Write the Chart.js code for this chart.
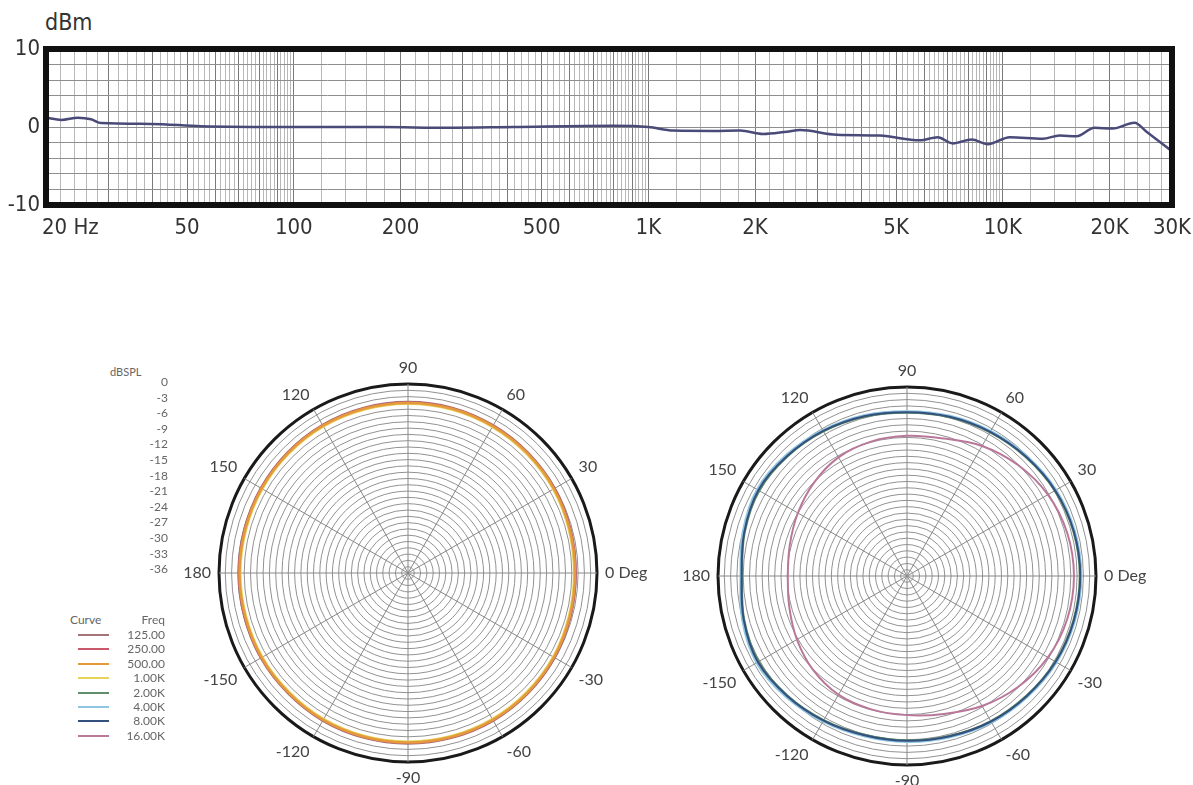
<!DOCTYPE html>
<html>
<head>
<meta charset="utf-8">
<script src="https://cdn.jsdelivr.net/npm/chart.js@4.4.0/dist/chart.umd.min.js"></script>
<style>
  html, body { margin: 0; padding: 0; background: #fff; width: 1193px; height: 785px; overflow: hidden; }
  canvas { position: absolute; }
  .txt { position: absolute; white-space: nowrap; font-family: Lato, "Open Sans", sans-serif; color: #666; }
  #dbm { left: 45px; top: 9px; font: 23px "Liberation Sans Narrow", "DejaVu Sans Condensed", sans-serif; color: #333; }
</style>
</head>
<body>
<div id="dbm" class="txt">dBm</div>
<canvas id="freqChart" style="left:0;top:0" width="1193" height="250"></canvas>
<canvas id="polarLow" style="left:158px;top:353px" width="500" height="440"></canvas>
<canvas id="polarHigh" style="left:657px;top:356px" width="500" height="440"></canvas>
<div id="keys"></div>
<script>
// frequency response (top)
const freqHz = [20, 22.1, 24.6, 26.8, 28.6, 39.5, 54.7, 100, 176, 271, 416, 796, 1000, 1175, 1523, 1815, 2106, 2460, 2680, 3400, 4500, 5830, 6550, 7220, 8170, 9070, 10460, 12950, 14460, 16140, 18140, 20400, 23520, 25430, 30000];
const levelDbm = [1.2, 0.9, 1.2, 1.0, 0.5, 0.4, 0.1, 0.0, 0.0, -0.1, 0.0, 0.15, 0.0, -0.45, -0.5, -0.45, -0.9, -0.6, -0.4, -1.0, -1.1, -1.7, -1.3, -2.1, -1.6, -2.2, -1.3, -1.5, -1.1, -1.2, -0.1, -0.2, 0.55, -0.6, -3.1];
const xTickValues = [20, 50, 100, 200, 500, 1000, 2000, 5000, 10000, 20000, 30000];
const xTickText = ['20 Hz', '50', '100', '200', '500', '1K', '2K', '5K', '10K', '20K', '30K'];
const yTickValues = [-10, 0, 10];

// polar plots (angles clockwise from top, dB)
const polarAngles = [90, 75, 60, 45, 30, 15, 0, -15, -30, -45, -60, -75, -90, -105, -120, -135, -150, -165, 180, 165, 150, 135, 120, 105];
const angleLabels = [90, 60, 30, 0, -30, -60, -90, -120, -150, 180, 150, 120];
const dbsplLabels = ['0', '-3', '-6', '-9', '-12', '-15', '-18', '-21', '-24', '-27', '-30', '-33', '-36'];

const curve125 = [-3.4, -3.4, -3.5, -3.6, -3.7, -3.9, -4.0, -3.9, -3.7, -3.6, -3.5, -3.5, -3.5, -3.5, -3.5, -3.6, -3.6, -3.7, -3.7, -3.7, -3.6, -3.5, -3.4, -3.4];
const curve250 = [-3.5, -3.5, -3.6, -3.7, -3.8, -4.0, -4.1, -4.0, -3.8, -3.7, -3.6, -3.6, -3.6, -3.6, -3.6, -3.7, -3.7, -3.8, -3.8, -3.8, -3.7, -3.6, -3.5, -3.5];
const curve500 = [-3.6, -3.6, -3.7, -3.8, -3.9, -4.1, -4.2, -4.1, -3.9, -3.8, -3.7, -3.7, -3.7, -3.7, -3.7, -3.8, -3.8, -3.9, -3.9, -3.9, -3.8, -3.7, -3.6, -3.6];
const curve1k = [-3.8, -3.8, -3.9, -4.0, -4.1, -4.3, -4.4, -4.3, -4.1, -4.0, -3.9, -3.9, -3.9, -3.9, -3.9, -4.0, -4.0, -4.1, -4.1, -4.1, -4.0, -3.9, -3.8, -3.8];
const curve2k = [-4.9, -4.7, -4.4, -4.0, -3.5, -3.2, -3.1, -3.2, -3.4, -3.8, -4.1, -4.5, -4.7, -4.7, -4.3, -3.8, -3.4, -3.9, -4.6, -4.0, -3.5, -3.8, -4.2, -4.6];
const curve4k = [-4.6, -4.4, -4.1, -3.7, -3.2, -2.9, -2.8, -2.9, -3.1, -3.5, -3.8, -4.2, -4.4, -4.4, -4.0, -3.4, -2.9, -3.5, -4.3, -3.6, -3.0, -3.4, -3.9, -4.3];
const curve8k = [-4.8, -4.6, -4.3, -3.9, -3.4, -3.1, -3.0, -3.1, -3.3, -3.7, -4.0, -4.4, -4.6, -4.6, -4.2, -3.7, -3.2, -3.8, -4.5, -3.9, -3.3, -3.7, -4.1, -4.5];
const curve16k = [-9.3, -8.9, -7.4, -6.1, -5.0, -4.4, -4.2, -4.4, -5.0, -6.1, -7.4, -8.8, -9.5, -9.7, -9.9, -10.7, -11.8, -12.8, -13.3, -12.9, -12.0, -10.9, -9.9, -9.5];

const curveFreqs = ['125.00', '250.00', '500.00', '1.00K', '2.00K', '4.00K', '8.00K', '16.00K'];
const curveColors = ['#a5727a', '#c8586a', '#e49a3c', '#e6d35a', '#5f8f68', '#8cc6e0', '#34507f', '#b9789a'];

// grid lines for the log axis: 0.2 step inside every decade
const gridFreqs = [];
[10, 100, 1000, 10000].forEach(function (b) {
    for (let m = 1; m <= 10.001; m += 0.2) {
        const v = Math.round(b * m * 100) / 100;
        if (v >= 20 && v <= 30000 && gridFreqs.indexOf(v) < 0) gridFreqs.push(v);
    }
});
const isMajor = function (v) {
    const b = Math.pow(10, Math.floor(Math.log10(v) + 1e-9));
    return Math.abs(v / b - Math.round(v / b)) < 1e-6;
};

const narrowFont = "'Liberation Sans Narrow', 'DejaVu Sans Condensed', sans-serif";

const framePlugin = {
    id: 'frame',
    afterDraw: function (chart) {
        const a = chart.chartArea;
        const ctx = chart.ctx;
        const x = chart.scales.x;
        ctx.save();
        ctx.lineWidth = 6;
        ctx.strokeStyle = '#111';
        ctx.strokeRect(a.left, a.top, a.right - a.left, a.bottom - a.top);
        ctx.fillStyle = '#333';
        ctx.font = '22px ' + narrowFont;
        ctx.textBaseline = 'middle';
        xTickValues.forEach(function (v, i) {
            const px = x.getPixelForValue(v);
            ctx.textAlign = i === 0 ? 'left' : 'center';
            ctx.fillText(xTickText[i], i === 0 ? px - 4 : px, 228);
        });
        ctx.restore();
    }
};

new Chart(document.getElementById('freqChart'), {
    type: 'line',
    data: {
        datasets: [{
            data: freqHz.map(function (f, i) { return { x: f, y: levelDbm[i] }; }),
            borderColor: '#4a4a78',
            borderWidth: 2.5,
            pointRadius: 0,
            tension: 0.4,
            cubicInterpolationMode: 'monotone',
            fill: false
        }]
    },
    options: {
        responsive: false,
        animation: false,
        layout: { padding: { top: 49, right: 21, left: 0, bottom: 0 } },
        plugins: { legend: { display: false }, tooltip: { enabled: false } },
        scales: {
            x: {
                type: 'logarithmic',
                min: 20,
                max: 30000,
                afterBuildTicks: function (s) { s.ticks = gridFreqs.map(function (v) { return { value: v }; }); },
                afterFit: function (s) { s.height = 45; },
                ticks: { display: false, autoSkip: false },
                grid: {
                    drawTicks: false,
                    color: function (c) { return c.tick && isMajor(c.tick.value) ? '#7a7a7a' : '#b8b8b8'; },
                    lineWidth: 1
                },
                border: { display: false }
            },
            y: {
                min: -10,
                max: 10,
                afterBuildTicks: function (s) {
                    const t = [];
                    for (let v = -10; v <= 10; v += 2) t.push({ value: v });
                    s.ticks = t;
                },
                afterFit: function (s) { s.width = 46; },
                ticks: {
                    autoSkip: false,
                    padding: 6,
                    color: '#333',
                    font: { size: 22, family: narrowFont },
                    callback: function (v) { return yTickValues.indexOf(v) >= 0 ? String(v) : ''; }
                },
                grid: { drawTicks: false, color: '#8e8e8e', lineWidth: 1 },
                border: { display: false }
            }
        }
    },
    plugins: [framePlugin]
});

const angleLabelPlugin = {
    id: 'angleLabels',
    afterDraw: function (chart) {
        const r = chart.scales.r;
        const ctx = chart.ctx;
        ctx.save();
        ctx.fillStyle = '#444';
        ctx.font = '16px Lato, "Open Sans", sans-serif';
        angleLabels.forEach(function (a) {
            const idx = polarAngles.indexOf(a);
            const p = r.getPointPosition(idx, r.drawingArea + 8);
            const rad = a * Math.PI / 180;
            const c = Math.cos(rad), s = Math.sin(rad);
            ctx.textAlign = c > 0.3 ? 'left' : (c < -0.3 ? 'right' : 'center');
            ctx.textBaseline = s > 0.3 ? 'bottom' : (s < -0.3 ? 'top' : 'middle');
            ctx.fillText(a === 0 ? '0 Deg' : String(a), p.x, p.y);
        });
        ctx.restore();
    }
};

const makePolar = function (id, series) {
    new Chart(document.getElementById(id), {
        type: 'radar',
        data: {
            labels: polarAngles.map(String),
            datasets: series.map(function (s) {
                return { data: s.data, borderColor: s.color, borderWidth: s.width || 2, fill: false, pointRadius: 0, tension: 0.35, order: s.order };
            })
        },
        options: {
            responsive: false,
            animation: false,
            layout: { padding: { left: 61, right: 61, top: 31, bottom: 31 } },
            plugins: { legend: { display: false }, tooltip: { enabled: false } },
            scales: {
                r: {
                    min: -36,
                    max: 0,
                    startAngle: 0,
                    ticks: { display: false, stepSize: 1.2 },
                    pointLabels: { display: false },
                    grid: {
                        circular: true,
                        color: function (c) { return c.tick && c.tick.value === 0 ? '#1a1a1a' : '#929292'; },
                        lineWidth: function (c) { return c.tick && c.tick.value === 0 ? 3 : 1; }
                    },
                    angleLines: {
                        color: '#888',
                        lineWidth: function (c) { return c.index % 2 === 0 ? 1 : 0; }
                    }
                }
            }
        },
        plugins: [angleLabelPlugin]
    });
};

makePolar('polarLow', [
    { data: curve125, color: curveColors[0], order: 4 },
    { data: curve250, color: curveColors[1], order: 3 },
    { data: curve1k, color: curveColors[3], order: 2 },
    { data: curve500, color: curveColors[2], width: 2.5, order: 1 }
]);
makePolar('polarHigh', [
    { data: curve2k, color: curveColors[4], order: 3 },
    { data: curve4k, color: curveColors[5], order: 2 },
    { data: curve8k, color: curveColors[6], order: 1 },
    { data: curve16k, color: curveColors[7], order: 4 }
]);

// dBSPL key and curve legend
const keys = document.getElementById('keys');
const addText = function (text, x, y, align, size) {
    const d = document.createElement('div');
    d.className = 'txt';
    d.textContent = text;
    d.style.fontSize = (size || 12) + 'px';
    d.style.top = (y - 8) + 'px';
    if (align === 'right') { d.style.right = (1193 - x) + 'px'; } else { d.style.left = x + 'px'; }
    keys.appendChild(d);
};
addText('dBSPL', 110, 373, 'left', 11);
dbsplLabels.forEach(function (t, i) { addText(t, 168, 382 + i * 15.6, 'right'); });
addText('Curve', 70, 620, 'left');
addText('Freq', 165, 620, 'right');
curveFreqs.forEach(function (t, i) {
    const y = 635 + i * 14.4;
    addText(t, 165, y, 'right');
    const ln = document.createElement('div');
    ln.style.cssText = 'position:absolute;left:78px;width:31px;height:2px;top:' + (y - 1) + 'px;background:' + curveColors[i];
    keys.appendChild(ln);
});
</script>
</body>
</html>
